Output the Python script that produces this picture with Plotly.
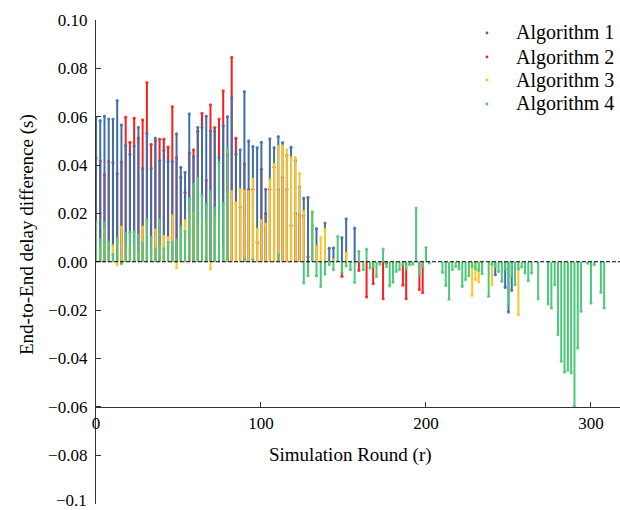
import plotly.graph_objects as go

# Simulation rounds: dense early sampling, then every second round
early_rounds = [round(2.57 * i, 2) for i in range(63)]
late_rounds = list(range(162, 310, 2))
rounds = early_rounds + late_rounds

# End-to-end delay difference (s), early rounds
alg1_early = [0.0596, 0.0584, 0.0603, 0.0590, 0.0590, 0.0667, 0.0566, 0.0482, 0.0445, 0.0479,
              0.0556, 0.0386, 0.0532, 0.0386, 0.0511, 0.0419, 0.0460, 0.0415, 0.0415, 0.0529,
              0.0391, 0.0370, 0.0612, 0.0435, 0.0556, 0.0555, 0.0602, 0.0541, 0.0541, 0.0431,
              0.0562, 0.0600, 0.0679, 0.0445, 0.0463, 0.0704, 0.0500, 0.0477, 0.0472, 0.0494,
              0.0300, 0.0508, 0.0472, 0.0518, 0.0493, 0.0440, 0.0474, 0.0420, 0.0310, 0.0263,
              0.0266, 0.0150, 0.0137, None, 0.0160, 0.0056, 0.0058, None, 0.0100, 0.0178,
              None, 0.0139, None]
alg2_early = [0.0428, 0.0417, 0.0360, 0.0415, 0.0410, 0.0364, 0.0413, 0.0598, 0.0494, 0.0594,
              0.0511, 0.0587, 0.0741, 0.0486, 0.0500, 0.0507, 0.0507, 0.0474, 0.0642, 0.0430,
              0.0350, 0.0287, 0.0450, 0.0463, 0.0540, 0.0614, 0.0336, 0.0649, 0.0555, 0.0590,
              0.0707, 0.0445, 0.0846, 0.0511, 0.0226, 0.0405, 0.0298, 0.0300, 0.0080, 0.0383,
              0.0200, 0.0300, 0.0391, 0.0300, 0.0350, 0.0300, 0.0150, 0.0200, 0.0194, 0.0190,
              0.0020, None, None, None, None, None, None, None, -0.0061, None,
              None, None, -0.0036]
alg3_early = [0.0135, 0.0056, 0.0130, 0.0040, 0.0066, -0.0013, 0.0143, 0.0060, 0.0040, 0.0070,
              0.0030, 0.0143, 0.0160, 0.0050, 0.0132, 0.0060, 0.0105, 0.0100, 0.0190, -0.0025,
              0.0130, 0.0170, 0.0200, 0.0200, 0.0150, 0.0120, 0.0160, -0.0030, 0.0180, 0.0190,
              0.0060, 0.0280, 0.0290, 0.0245, 0.0298, 0.0292, 0.0290, 0.0342, 0.0135, 0.0170,
              0.0156, 0.0339, 0.0404, 0.0476, 0.0477, 0.0463, 0.0431, 0.0431, 0.0366, 0.0208,
              None, 0.0208, 0.0063, 0.0100, 0.0135, None, 0.0008, None, None, 0.0036,
              None, None, None]
alg4_early = [0.0163, 0.0091, 0.0160, 0.0081, 0.0030, 0.0098, -0.0008, 0.0118, 0.0121, 0.0125,
              0.0110, 0.0077, 0.0174, 0.0102, 0.0052, 0.0174, 0.0054, 0.0080, 0.0080, 0.0090,
              0.0146, 0.0125, 0.0260, 0.0320, 0.0346, 0.0275, 0.0236, 0.0290, 0.0222, 0.0410,
              0.0242, 0.0470, None, None, None, 0.0011, None, 0.0010, None, None,
              None, None, None, 0.0030, None, None, None, None, None, -0.0088,
              -0.0058, 0.0204, -0.0058, -0.0102, -0.0051, -0.0012, -0.0033, 0.0105, -0.0044, -0.0017,
              -0.0033, -0.0085, 0.0043]

# Later rounds: only the rounds where each algorithm reported a value
alg1_late = {242: -0.0054, 248: -0.0106, 250: -0.0208, 252: -0.0118}
alg2_late = {164: -0.0146, 168: -0.0091, 174: -0.0153, 176: -0.0006, 186: -0.0097,
             188: -0.0153, 196: -0.0115, 198: -0.0128}
alg3_late = {220: -0.0015, 228: -0.0139, 230: -0.0074, 232: -0.0084, 240: -0.0095,
             256: -0.0219}
alg4_late = {162: -0.0033, 164: 0.0052, 166: -0.0026, 168: -0.0020, 170: -0.0061,
             172: -0.0010, 174: 0.0052, 176: -0.0020, 178: -0.0100, 180: -0.0085,
             182: -0.0040, 184: -0.0033, 186: -0.0012, 188: -0.0030, 190: -0.0012,
             192: -0.0010, 194: 0.0222, 196: -0.0054, 198: -0.0020, 200: 0.0059,
             202: -0.0005, 210: -0.0044, 212: -0.0098, 214: -0.0155, 216: -0.0033,
             218: -0.0020, 220: -0.0030, 222: -0.0102, 224: -0.0074, 226: -0.0058,
             228: -0.0020, 230: -0.0030, 232: -0.0036, 234: -0.0050, 238: -0.0143,
             240: -0.0010, 242: -0.0020, 244: -0.0040, 246: -0.0081, 248: -0.0030,
             250: -0.0178, 252: -0.0060, 254: -0.0095, 256: -0.0030, 258: -0.0022,
             260: -0.0047, 262: -0.0079, 264: -0.0047, 268: -0.0154, 274: -0.0175,
             276: -0.0191, 278: -0.0095, 280: -0.0302, 282: -0.0412, 284: -0.0457,
             286: -0.0449, 288: -0.0460, 290: -0.0598, 292: -0.0357, 294: -0.0205,
             298: -0.0006, 300: -0.0171, 302: -0.0012, 306: -0.0127, 308: -0.0191}

names = ["Algorithm 1", "Algorithm 2", "Algorithm 3", "Algorithm 4"]
colors = ["#3f6cab", "#f81e1e", "#ffc425", "#4dc878"]
series = [
    alg1_early + [alg1_late.get(r) for r in late_rounds],
    alg2_early + [alg2_late.get(r) for r in late_rounds],
    alg3_early + [alg3_late.get(r) for r in late_rounds],
    alg4_early + [alg4_late.get(r) for r in late_rounds],
]

FONT = "Liberation Serif"


def stem_path(xs, ys):
    sx, sy = [], []
    for x, y in zip(xs, ys):
        if y is None:
            continue
        sx += [x, x, None]
        sy += [0, y, None]
    return sx, sy


fig = go.Figure()

# stacking order: Algorithm 2 underneath, then 1, 3 and 4 on top
for k in [1, 0, 2, 3]:
    sx, sy = stem_path(rounds, series[k])
    fig.add_trace(go.Scatter(x=sx, y=sy, mode="lines", line=dict(color=colors[k], width=2),
                             hoverinfo="skip", showlegend=False))
    px = [x for x, y in zip(rounds, series[k]) if y is not None]
    py = [y for y in series[k] if y is not None]
    fig.add_trace(go.Scatter(x=px, y=py, mode="markers", name=names[k],
                             marker=dict(color=colors[k], size=3.2, opacity=0.85),
                             showlegend=False))

# dashed baseline at zero
fig.add_shape(type="line", xref="paper", yref="y", x0=0, x1=1, y0=0, y1=0,
              line=dict(color="black", width=1.2, dash="4px,2px"), layer="above")

yticks = [0.10, 0.08, 0.06, 0.04, 0.02, 0.0, -0.02, -0.04, -0.06, -0.08, -0.0999]
ytext = ["0.10", "0.08", "0.06", "0.04", "0.02", "0.00", "\u22120.02", "\u22120.04",
         "\u22120.06", "\u22120.08", ""]

fig.update_layout(
    width=620, height=510,
    margin=dict(l=96, r=0, t=20, b=6),
    paper_bgcolor="white", plot_bgcolor="white",
    font=dict(family=FONT, size=17, color="black"),
    showlegend=False,
    xaxis=dict(range=[0, 317.6], tickvals=[0, 100, 200, 300], ticks="inside", ticklen=5,
               tickcolor="#333", showline=True, linecolor="#333", linewidth=1.3,
               showgrid=False, zeroline=False, anchor="free", position=0.2,
               automargin=False,
               tickfont=dict(family=FONT, size=17, color="black")),
    yaxis=dict(range=[-0.1002, 0.1], tickvals=yticks, ticktext=ytext, ticks="inside",
               ticklen=5, tickcolor="#333", showline=True, linecolor="#333", linewidth=1.3,
               showgrid=False, zeroline=False, ticklabelstandoff=4, automargin=False,
               tickfont=dict(family=FONT, size=17, color="black")),
)

# bottom tick label, kept just inside the page edge
fig.add_annotation(text="\u22120.1", xref="paper", yref="paper", x=(89 - 96) / 524,
                   y=(504 - 500) / 484, xanchor="right", yanchor="middle", showarrow=False,
                   font=dict(family=FONT, size=17, color="black"))

# axis titles
fig.add_annotation(text="Simulation Round (r)", xref="paper", yref="paper",
                   x=(350 - 96) / 524, y=(504 - 455) / 484, showarrow=False,
                   xanchor="center", yanchor="middle",
                   font=dict(family=FONT, size=19, color="black"))
fig.add_annotation(text="End-to-End delay difference (s)", xref="paper", yref="paper",
                   x=(27 - 96) / 524, y=(504 - 235) / 484, showarrow=False, textangle=-90,
                   xanchor="center", yanchor="middle",
                   font=dict(family=FONT, size=19, color="black"))

# legend
legend_rows = [33, 57, 80, 104]
for k in range(4):
    yp = (504 - legend_rows[k]) / 484
    fig.add_shape(type="circle", xref="paper", yref="paper", xsizemode="pixel",
                  ysizemode="pixel", xanchor=(487 - 96) / 524, yanchor=yp,
                  x0=-1.4, x1=1.4, y0=-1.4, y1=1.4,
                  fillcolor=colors[k], line=dict(width=0))
    fig.add_annotation(text=names[k], xref="paper", yref="paper", x=(514 - 96) / 524, y=yp,
                       xanchor="left", yanchor="middle", showarrow=False,
                       font=dict(family=FONT, size=20, color="black"))

fig.write_html("out.html")
